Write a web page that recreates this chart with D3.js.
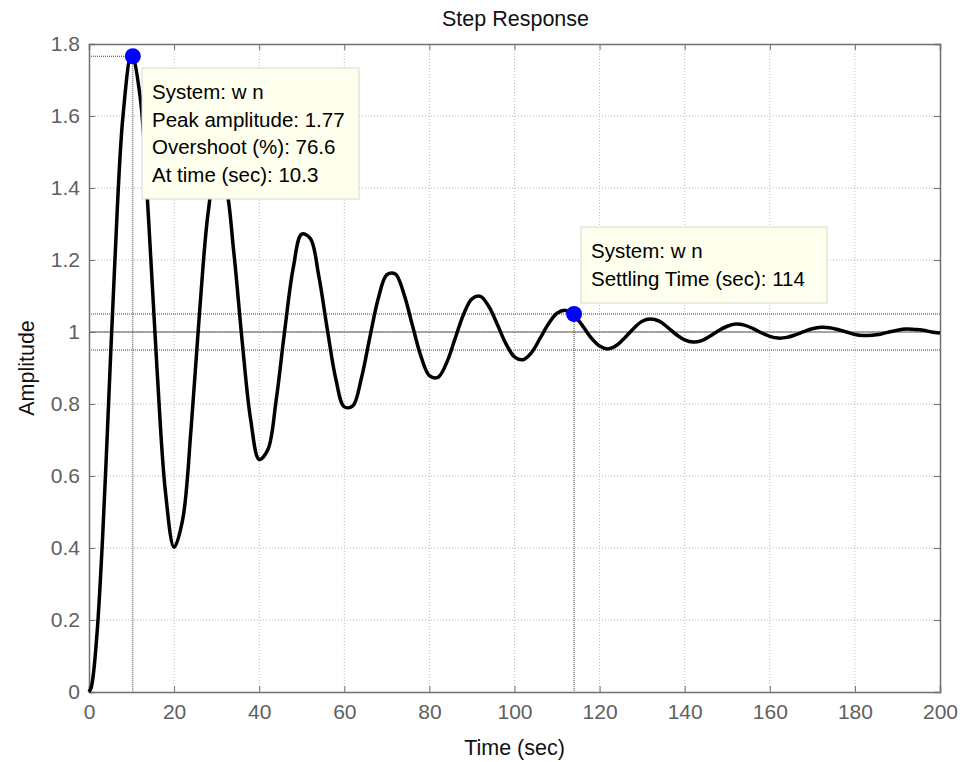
<!DOCTYPE html>
<html>
<head>
<meta charset="utf-8">
<script src="https://cdn.jsdelivr.net/npm/d3@7"></script>
<style>
  body { margin: 0; background: #fff; }
  #chart { width: 962px; height: 762px; }
  text { font-family: "Liberation Sans", Arial, sans-serif; }
</style>
</head>
<body>
<div id="chart"></div>
<script>
// step response samples
const timeSec = [0, 0.5, 1, 2, 3, 4, 6, 8, 10, 12, 14, 16, 18, 20, 22, 24, 26, 28, 30, 32, 34, 36, 38, 40,
  42, 44, 46, 48, 50, 52, 54, 56, 58, 60, 62, 64, 66, 68, 70, 72, 74, 76, 78, 80, 82, 84, 86, 88, 90,
  92, 94, 96, 98, 100, 102, 104, 106, 108, 110, 112, 114, 116, 118, 120, 122, 124, 126, 128, 130,
  132, 134, 136, 138, 140, 142, 144, 146, 148, 150, 152, 154, 156, 158, 160, 162, 164, 166, 168,
  170, 172, 174, 176, 178, 180, 182, 184, 186, 188, 190, 192, 194, 196, 198, 200];
const amplitude = [0, 0.012, 0.047, 0.181, 0.384, 0.635, 1.176, 1.602, 1.772, 1.655, 1.314, 0.894, 0.552, 0.402,
  0.478, 0.733, 1.058, 1.331, 1.461, 1.414, 1.225, 0.974, 0.756, 0.646,
  0.672, 0.812, 1.005, 1.178, 1.272, 1.260, 1.156, 1.008, 0.870, 0.792, 0.795, 0.871, 0.985, 1.094, 1.159,
  1.161, 1.106, 1.019, 0.933, 0.879, 0.874, 0.913, 0.980, 1.048, 1.092,
  1.099, 1.070, 1.020, 0.967, 0.931, 0.923, 0.943, 0.982, 1.023, 1.052, 1.060, 1.046, 1.017, 0.984, 0.961,
  0.953, 0.963, 0.985, 1.010, 1.030,
  1.036, 1.030, 1.013, 0.993, 0.978, 0.972, 0.976, 0.989, 1.004, 1.016, 1.022, 1.019, 1.010, 0.998, 0.988,
  0.983, 0.985, 0.992, 1.001,
  1.009, 1.013, 1.012, 1.007, 1.000, 0.993, 0.990, 0.991, 0.994, 1.000, 1.005, 1.008, 1.007, 1.005, 1.000, 0.997];

const xTicks = [0, 20, 40, 60, 80, 100, 120, 140, 160, 180, 200];
const yTicks = [0, 0.2, 0.4, 0.6, 0.8, 1, 1.2, 1.4, 1.6, 1.8];

// characteristic points (datatips)
const peakPoint = {t: 10.3, y: 1.766};
const settlePoint = {t: 114, y: 1.05};
const settleBand = [0.95, 1.05];
const finalValue = 1;
const peakLines = ['System: w n', 'Peak amplitude: 1.77', 'Overshoot (%): 76.6', 'At time (sec): 10.3'];
const settleLines = ['System: w n', 'Settling Time (sec): 114'];

const margin = {t: 44, r: 22, b: 70, l: 89};
const W = 962, H = 762;
const w = W - margin.l - margin.r;
const h = H - margin.t - margin.b;

const svg = d3.select('#chart').append('svg')
    .attr('width', W)
    .attr('height', H);

const plot = svg.append('g')
    .attr('transform', `translate(${margin.l},${margin.t})`);

const x = d3.scaleLinear().domain([0, 200]).range([0, w]);
const y = d3.scaleLinear().domain([0, 1.8]).range([h, 0]);

// grid
plot.append('g').selectAll('line')
    .data(xTicks.slice(1, -1))
    .join('line')
    .attr('x1', d => x(d)).attr('x2', d => x(d))
    .attr('y1', 0).attr('y2', h)
    .attr('stroke', '#b8b8b8')
    .attr('stroke-dasharray', '1,2');
plot.append('g').selectAll('line')
    .data(yTicks.slice(1, -1))
    .join('line')
    .attr('x1', 0).attr('x2', w)
    .attr('y1', d => y(d)).attr('y2', d => y(d))
    .attr('stroke', '#b8b8b8')
    .attr('stroke-dasharray', '1,2');

// settling band and final value
plot.append('g').selectAll('line')
    .data(settleBand)
    .join('line')
    .attr('x1', 0).attr('x2', w)
    .attr('y1', d => y(d)).attr('y2', d => y(d))
    .attr('stroke', '#404040')
    .attr('stroke-dasharray', '1,1');
plot.append('line')
    .attr('x1', 0).attr('x2', w)
    .attr('y1', y(finalValue)).attr('y2', y(finalValue))
    .attr('stroke', '#555');

// datatip guide lines
const guides = plot.append('g')
    .attr('stroke', '#404040')
    .attr('stroke-dasharray', '1,1');
guides.append('line')
    .attr('x1', 0).attr('x2', x(peakPoint.t))
    .attr('y1', y(peakPoint.y)).attr('y2', y(peakPoint.y));
guides.append('line')
    .attr('x1', x(peakPoint.t)).attr('x2', x(peakPoint.t))
    .attr('y1', y(peakPoint.y)).attr('y2', h);
guides.append('line')
    .attr('x1', x(settlePoint.t)).attr('x2', x(settlePoint.t))
    .attr('y1', y(settlePoint.y)).attr('y2', h);

// axes, ticks inside on all four sides
const tickLen = 6;
const axisBottom = d3.axisBottom(x).tickValues(xTicks).tickSize(-tickLen).tickPadding(12);
const axisTop = d3.axisTop(x).tickValues(xTicks).tickSize(-tickLen).tickFormat('');
const axisLeft = d3.axisLeft(y).tickValues(yTicks).tickSize(-tickLen).tickPadding(9).tickFormat(d3.format('~g'));
const axisRight = d3.axisRight(y).tickValues(yTicks).tickSize(-tickLen).tickFormat('');

function styleAxis(g) {
    g.select('.domain').attr('stroke', '#707070').attr('stroke-width', 1.5);
    g.selectAll('.tick line').attr('stroke', '#707070');
    g.selectAll('.tick text')
        .attr('fill', '#606060')
        .style('font-size', '21px')
        .style('font-family', '"Liberation Sans", Arial, sans-serif');
}

plot.append('g').attr('transform', `translate(0,${h})`).call(axisBottom).call(styleAxis);
plot.append('g').call(axisTop).call(styleAxis);
plot.append('g').call(axisLeft).call(styleAxis);
plot.append('g').attr('transform', `translate(${w},0)`).call(axisRight).call(styleAxis);

// response curve
const line = d3.line()
    .x((d, i) => x(timeSec[i]))
    .y(d => y(d))
    .curve(d3.curveCatmullRom.alpha(0.5));
plot.append('path')
    .datum(amplitude)
    .attr('fill', 'none')
    .attr('stroke', '#000')
    .attr('stroke-width', 3.5)
    .attr('stroke-linejoin', 'round')
    .attr('d', line);

// markers
plot.selectAll('.tip-dot')
    .data([peakPoint, settlePoint])
    .join('circle')
    .attr('class', 'tip-dot')
    .attr('cx', d => x(d.t))
    .attr('cy', d => y(d.y))
    .attr('r', 8)
    .attr('fill', '#0000ff');

// datatip boxes
function dataTip(lines, bx, by, bw, bh) {
    const g = svg.append('g').attr('transform', `translate(${bx},${by})`);
    g.append('rect')
        .attr('width', bw).attr('height', bh)
        .attr('fill', '#ffffee')
        .attr('stroke', '#d8d8d0');
    g.selectAll('text')
        .data(lines)
        .join('text')
        .attr('x', 10)
        .attr('y', (d, i) => 31 + i * 27.5)
        .attr('fill', '#000')
        .style('font-size', '20.5px')
        .text(d => d);
}
dataTip(peakLines, 142, 68, 217, 131);
dataTip(settleLines, 581, 227, 246, 76);

// labels
svg.append('text')
    .attr('x', margin.l + w / 2 + 1).attr('y', 26)
    .attr('text-anchor', 'middle')
    .attr('fill', '#111')
    .style('font-size', '21.5px')
    .text('Step Response');
svg.append('text')
    .attr('x', margin.l + w / 2).attr('y', 755)
    .attr('text-anchor', 'middle')
    .attr('fill', '#111')
    .style('font-size', '21.5px')
    .text('Time (sec)');
svg.append('text')
    .attr('transform', `translate(34,${margin.t + h / 2}) rotate(-90)`)
    .attr('text-anchor', 'middle')
    .attr('fill', '#111')
    .style('font-size', '21.5px')
    .text('Amplitude');
</script>
</body>
</html>
